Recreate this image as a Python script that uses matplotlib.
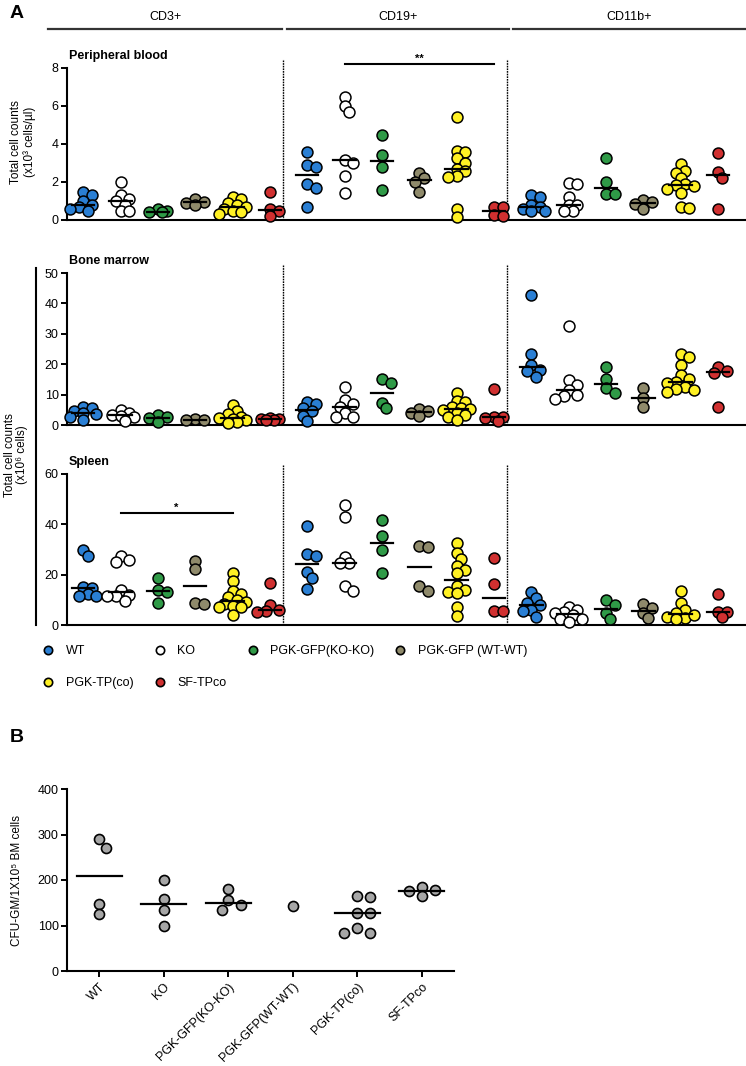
import numpy as np
import matplotlib
matplotlib.use("Agg")
import matplotlib.pyplot as plt
from matplotlib.lines import Line2D

plt.rcParams["font.family"] = ["Liberation Sans", "DejaVu Sans"]

# ---- data ----
GROUPS = ["WT", "KO", "PGK-GFP(KO-KO)", "PGK-GFP (WT-WT)", "PGK-TP(co)", "SF-TPco"]
COLORS = ["#2a7fd4", "#ffffff", "#2f9a47", "#8f8a6b", "#fff124", "#d03030"]
SECTIONS = ["CD3+", "CD19+", "CD11b+"]

# peripheral blood (x10^3 cells/ul)
pb_cd3 = [[1.5, 1.3, 1.0, 0.8, 0.7, 0.6, 0.5],
          [2.0, 1.3, 1.1, 1.0, 0.8, 0.5, 0.5],
          [0.6, 0.45, 0.4, 0.4],
          [1.1, 0.95, 0.9, 0.8],
          [1.2, 1.1, 0.9, 0.8, 0.7, 0.6, 0.5, 0.4, 0.3],
          [1.5, 0.6, 0.5, 0.2]]
pb_cd19 = [[3.6, 2.9, 2.8, 1.9, 1.7, 0.7],
           [6.5, 6.0, 5.7, 3.15, 3.0, 2.3, 1.4],
           [4.5, 3.4, 2.8, 1.6],
           [2.5, 2.2, 2.0, 1.5],
           [5.4, 3.65, 3.6, 3.25, 3.0, 2.7, 2.6, 2.3, 2.25, 0.6, 0.15],
           [0.7, 0.7, 0.25, 0.2]]
pb_cd11b = [[1.3, 1.2, 0.8, 0.7, 0.6, 0.5, 0.45],
            [1.95, 1.9, 1.2, 0.8, 0.8, 0.5, 0.45],
            [3.25, 2.0, 1.35, 1.35],
            [1.05, 0.95, 0.85, 0.6],
            [2.95, 2.6, 2.5, 2.2, 1.9, 1.85, 1.8, 1.65, 1.4, 0.67, 0.64],
            [3.55, 2.55, 2.2, 0.6]]

# bone marrow (x10^6 cells)
bm_cd3 = [[6.0, 5.5, 4.5, 4.0, 3.5, 2.5, 1.5],
          [5.0, 3.8, 3.3, 3.0, 2.5, 1.2],
          [3.3, 2.7, 2.2, 1.1],
          [2.0, 1.7, 1.5],
          [6.5, 4.5, 3.5, 2.5, 2.2, 2.0, 1.5, 1.0, 0.5],
          [2.2, 2.0, 2.0, 1.8, 1.5]]
bm_cd19 = [[7.5, 7.0, 5.5, 4.5, 3.0, 1.2],
           [12.6, 8.2, 7.0, 6.0, 4.0, 2.7, 2.7],
           [15.0, 13.7, 7.4, 5.5],
           [5.2, 4.5, 4.0, 3.0],
           [10.4, 8.0, 7.5, 6.0, 5.5, 5.2, 5.0, 4.0, 3.3, 2.7, 1.6],
           [11.8, 2.7, 2.5, 2.2, 1.4]]
bm_cd11b = [[42.7, 23.4, 19.8, 18.1, 17.6, 15.9],
            [32.7, 14.8, 13.2, 11.5, 9.9, 9.5, 8.5],
            [19.0, 15.0, 12.1, 10.4],
            [12.1, 8.8, 6.0],
            [23.4, 22.5, 19.8, 16.5, 15.0, 14.3, 13.7, 12.6, 11.8, 11.5, 11.0],
            [19.2, 17.6, 17.0, 6.0]]

# spleen (x10^6 cells)
sp_cd3 = [[30, 27.5, 15, 14.8, 12.5, 11.5, 11.5],
          [27.5, 26, 25, 14, 12, 11.5, 11.5, 9.5],
          [18.6, 13.9, 13, 8.6],
          [25.5, 22.3, 8.6, 8.4],
          [20.5, 17.3, 13.5, 12.5, 11, 10, 9, 8.5, 7.7, 7.3, 7, 4],
          [16.6, 8, 6, 5.5, 5]]
sp_cd19 = [[39.4, 28.1, 27.5, 21, 18.6, 14.3],
           [47.8, 43.1, 26.9, 24.8, 24.5, 15.3, 13.5],
           [41.8, 35.4, 29.9, 20.6],
           [31.2, 30.8, 15.3, 13.5],
           [32.5, 28.5, 26.3, 23.5, 21.9, 20.6, 15.3, 13.9, 13.3, 12.6, 7.3, 3.6],
           [26.8, 16.2, 5.4, 5.4]]
sp_cd11b = [[13.3, 10.6, 8.6, 8, 6, 5.7, 3.3],
            [7.3, 6, 5, 4.6, 4, 2.4, 2.4, 1.3],
            [10, 8.1, 4.6, 2.5],
            [8.2, 6.6, 4.9, 2.7],
            [13.5, 8.6, 6, 4.6, 3.3, 2.7, 2.4, 4],
            [12.3, 5.3, 5.3, 3]]

# panel B: CFU-GM per 1x10^5 BM cells
cfu_labels = ["WT", "KO", "PGK-GFP(KO-KO)", "PGK-GFP(WT-WT)", "PGK-TP(co)", "SF-TPco"]
cfu_values = [[290, 270, 148, 125],
              [200, 158, 135, 98],
              [180, 155, 145, 135],
              [142],
              [165, 163, 128, 128, 95, 83, 83],
              [185, 178, 175, 165]]

# ---- layout ----
W, H = 746, 1066
fig = plt.figure(figsize=(W / 100, H / 100), dpi=100)


def px_axes(left, top, right, bottom):
    return fig.add_axes([left / W, 1 - bottom / H, (right - left) / W, (bottom - top) / H])


def fx(x):
    return x / W


def fy(y):
    return 1 - y / H


def swarm(ax, center, vals, diam, min_frac, step, max_off):
    """simple deterministic beeswarm: offsets in pixels, returned in data x"""
    pts = ax.transData.transform(np.column_stack([np.full(len(vals), center), vals]))
    ys = pts[:, 1]
    unit = ax.transData.transform([[1, 0]])[0, 0] - ax.transData.transform([[0, 0]])[0, 0]
    cands = [0.0]
    k = 1
    while k * step <= max_off + 1e-9:
        cands += [k * step, -k * step]
        k += 1
    placed, offs = [], np.zeros(len(vals))
    for i in np.argsort(-ys):
        best, best_d = 0.0, -1
        for c in cands:
            dx = c * diam
            d = min([np.hypot(dx - px, ys[i] - py) for px, py in placed] or [1e9])
            if d >= min_frac * diam:
                best = dx
                break
            if d > best_d + 0.5:
                best, best_d = dx, d
        placed.append((best, ys[i]))
        offs[i] = best
    return center + offs / unit


def style_axes(ax):
    for side in ["top", "right"]:
        ax.spines[side].set_visible(False)
    for side in ["left", "bottom"]:
        ax.spines[side].set_linewidth(1.5)
    ax.tick_params(axis="y", length=4, width=1.4, labelsize=9, pad=2)


# header
fig.text(fx(10), fy(13), "A", fontsize=14, fontweight="bold", va="center", ha="left")
head_spans = [(48, 282), (287, 509), (513, 746)]
for name, (x0, x1) in zip(SECTIONS, head_spans):
    fig.add_artist(Line2D([fx(x0), fx(x1)], [fy(29), fy(29)], color="#333333", lw=1.6))
    fig.text(fx((x0 + x1) / 2), fy(17), name, fontsize=9, ha="center", va="center")

rows = [
    ("Peripheral blood", [pb_cd3, pb_cd19, pb_cd11b], 8, [0, 2, 4, 6, 8], 68, 220),
    ("Bone marrow", [bm_cd3, bm_cd19, bm_cd11b], 50, [0, 10, 20, 30, 40, 50], 273, 425),
    ("Spleen", [sp_cd3, sp_cd19, sp_cd11b], 60, [0, 20, 40, 60], 474, 625),
]
offsets = np.arange(6) + 0.65
axes_a = []
for title, data, ymax, yticks, top, bottom in rows:
    ax = px_axes(67, top, 746, bottom)
    ax.set_xlim(0.214, 18.4)
    ax.set_ylim(0, ymax)
    ax.set_xticks([])
    ax.set_yticks(yticks)
    style_axes(ax)
    fig.text(fx(69), fy(top - 12), title, fontsize=9, fontweight="bold", ha="left", va="center")
    for b in (6, 12):
        ax.plot([b, b], [0, ymax * 1.06], color="k", lw=1.0, ls=(0, (1.2, 0.7)), clip_on=False)
    for s, sec in enumerate(data):
        for g, vals in enumerate(sec):
            c = s * 6 + offsets[g]
            xs = swarm(ax, c, vals, 11, 0.62, 0.4, 1.2)
            ax.scatter(xs, vals, s=62, c=COLORS[g], edgecolors="k", linewidths=1.1,
                       zorder=3, clip_on=False)
            med = np.median(vals)
            ax.plot([c - 0.3, c + 0.3], [med, med], color="k", lw=1.6, zorder=4)
    axes_a.append(ax)

# significance bars
ax_pb, ax_bm, ax_sp = axes_a
ax_pb.plot([6 + offsets[1], 6 + offsets[5]], [8.2, 8.2], color="k", lw=1.5, clip_on=False)
ax_pb.text(6 + (offsets[1] + offsets[5]) / 2, 8.22, "**", ha="center", va="bottom", fontsize=8,
           fontweight="bold")
ax_sp.plot([offsets[1], offsets[4]], [44.4, 44.4], color="k", lw=1.5, clip_on=False)
ax_sp.text((offsets[1] + offsets[4]) / 2, 44.6, "*", ha="center", va="bottom", fontsize=8,
           fontweight="bold")

# y labels
fig.text(fx(23), fy(142), "Total cell counts\n(x10\u00b3 cells/\u00b5l)", rotation=90,
         fontsize=8.5, ha="center", va="center", linespacing=1.1)
fig.add_artist(Line2D([fx(36), fx(36)], [fy(268), fy(625)], color="k", lw=1.5))
fig.text(fx(16), fy(455), "Total cell counts\n(x10\u2076 cells)", rotation=90,
         fontsize=8.5, ha="center", va="center", linespacing=1.1)

# legend
order = [0, 4, 1, 5, 2, 3]
handles = [Line2D([], [], marker="o", ls="none", ms=6, mfc=COLORS[i], mec="k", mew=1.2)
           for i in order]
fig.legend(handles, [GROUPS[i] for i in order], ncol=4, loc="upper left",
           bbox_to_anchor=(fx(42), fy(645)), frameon=False, fontsize=9,
           handlelength=1.0, handletextpad=0.9, columnspacing=1.6, labelspacing=1.6,
           borderpad=0, borderaxespad=0)

# ---- panel B ----
fig.text(fx(10), fy(737), "B", fontsize=14, fontweight="bold", va="center", ha="left")
axb = px_axes(67, 789, 454, 971)
axb.set_xlim(-0.5, 5.5)
axb.set_ylim(0, 400)
axb.set_yticks([0, 100, 200, 300, 400])
style_axes(axb)
axb.set_xticks(range(len(cfu_labels)))
axb.set_xticklabels(cfu_labels, rotation=45, ha="right", rotation_mode="anchor", fontsize=9)
axb.tick_params(axis="x", length=4, width=1.4, pad=3)
for i, vals in enumerate(cfu_values):
    xs = swarm(axb, i, vals, 10, 1.0, 0.65, 1.4)
    axb.scatter(xs, vals, s=52, c="#a6a6a6", edgecolors="k", linewidths=1.2, zorder=3,
                clip_on=False)
    if len(vals) > 1:
        med = np.median(vals)
        axb.plot([i - 0.35, i + 0.35], [med, med], color="k", lw=1.6, zorder=4)
fig.text(fx(17), fy(880), "CFU-GM/1X10\u2075 BM cells", rotation=90, fontsize=8.5,
         ha="center", va="center")

fig.savefig("out.png", dpi=100)
plt.close(fig)
